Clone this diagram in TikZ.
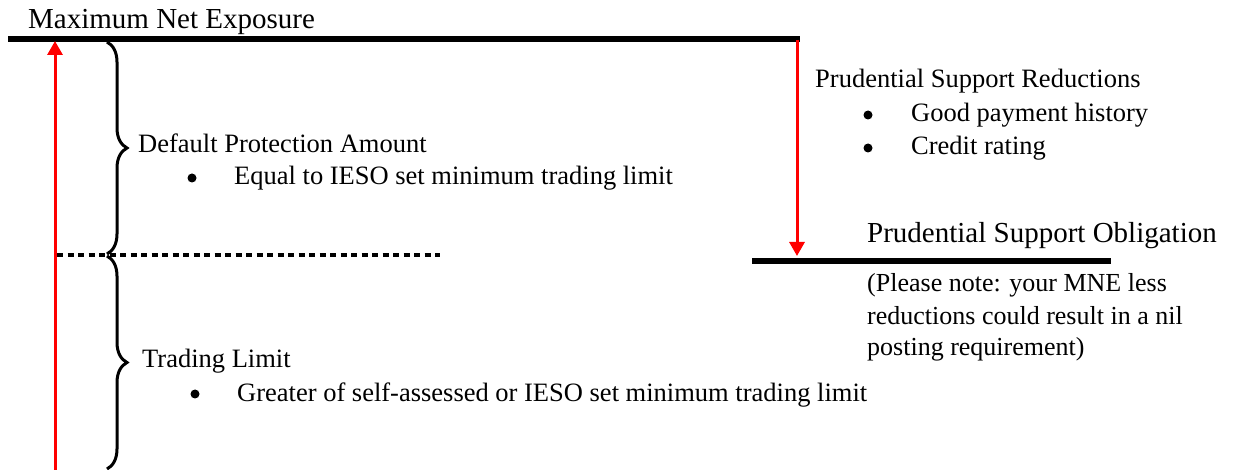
\documentclass[tikz,border=0pt]{standalone}
\usepackage{fontspec}
\setmainfont{Liberation Serif}
\usetikzlibrary{arrows.meta,decorations.pathreplacing,positioning}
\definecolor{arrowred}{RGB}{255,0,0}

\begin{document}
\begin{tikzpicture}[x=1pt, y=-1pt,
  txt/.style={anchor=base west, inner sep=0pt, font=\fontsize{26.5}{32}\selectfont},
  head/.style={txt, font=\fontsize{29}{34}\selectfont},
  note/.style={txt, align=left, font=\fontsize{26}{32}\selectfont},
  bul/.style={circle, fill, inner sep=0pt, minimum size=9pt},
  level/.style={line width=6pt},
  arr/.style={-{Triangle[width=15pt,length=14pt]}, line width=3pt, arrowred},
  brc/.style={decorate, decoration={brace, amplitude=20pt}, line width=3pt}]
\useasboundingbox (0,0) rectangle (1235,470);

% maximum net exposure
\node[head] (mne) at (28,29) {Maximum Net Exposure};
\coordinate (mneL) at (8,39);
\coordinate (mneR) at (800,39);
\draw[level] (mneL) -- (mneR);
\coordinate (base) at (55,470);
\coordinate (peak) at (55,41);
\draw[arr] (base) -- (peak);

% braces and split
\coordinate (b1) at (107,42);
\coordinate (b2) at (107,254);
\coordinate (b3) at (107,256);
\coordinate (b4) at (107,469);
\draw[brc] (b1) -- (b2);
\draw[brc] (b3) -- (b4);
\coordinate (dotL) at (57,255);
\coordinate (dotR) at (440,255);
\draw[line width=4pt, dash pattern=on 6pt off 4.5pt] (dotL) -- (dotR);

\node[txt] (dpa) at (138,153) {Default Protection Amount};
\node[bul] (dpab) at (192,178) {};
\node[txt] (dpai) at (234,185) {Equal to IESO set minimum trading limit};

\node[txt] (tl) at (142,368) {Trading Limit};
\node[bul] (tlb) at (195,394) {};
\node[txt] (tli) at (237,402) {Greater of self-assessed or IESO set minimum trading limit};

% reductions
\coordinate (drop) at (797,40);
\coordinate (land) at (797,256);
\draw[arr] (drop) -- (land);
\coordinate (psoL) at (752,261);
\coordinate (psoR) at (1111,261);
\draw[level] (psoL) -- (psoR);

\node[txt] (psr) at (815,88) {Prudential Support Reductions};
\node[bul] (psrb1) at (868,115) {};
\node[txt] (psri1) at (911,122) {Good payment history};
\node[bul] (psrb2) at (868,148) {};
\node[txt] (psri2) at (911,155) {Credit rating};

\node[head] (pso) at (867,243) {Prudential Support Obligation};
% base of a multi-line node sits on its last line
\node[note] (pson) at (867,356) {(Please note: your MNE less\\reductions could result in a nil\\posting requirement)};
\end{tikzpicture}
\end{document}
